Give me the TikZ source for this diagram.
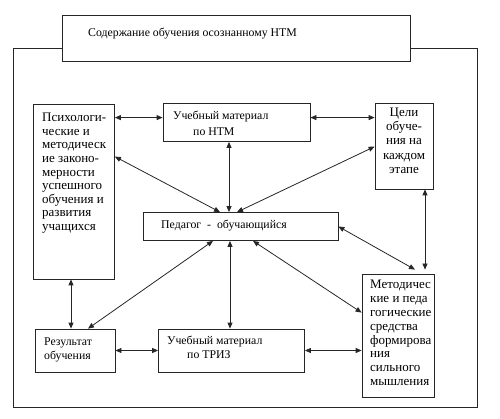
\documentclass[tikz,border=0pt]{standalone}
\usepackage{fontspec}
\setmainfont{Liberation Serif}
\usetikzlibrary{arrows.meta}
\begin{document}
\begin{tikzpicture}[x=1pt,y=-1pt,
  box/.style={draw=black!85,line width=0.8pt,rectangle,inner sep=0pt},
  txt/.style={inner sep=0pt,anchor=base west,align=left,font=\fontsize{11.8}{14}\selectfont},
  big/.style={font=\fontsize{13}{#1}\selectfont},
  arr/.style={draw=black!85,line width=0.8pt,{Triangle[length=6pt,width=5pt]}-{Triangle[length=6pt,width=5pt]}}]
\useasboundingbox (0,0) rectangle (500,419);
% outer frame
\node[box,minimum width=464pt,minimum height=359pt] (frame) at (245,227.5) {};
% title
\node[box,fill=white,minimum width=348pt,minimum height=46pt] (title) at (236,38) {};
\node[txt] (titletxt) at (88,37) {Содержание обучения осознанному НТМ};
% boxes
\node[box,minimum width=81pt,minimum height=175pt] (psy) at (74,191.5) {};
\node[box,minimum width=147pt,minimum height=38pt] (ntm) at (236.5,122.5) {};
\node[box,minimum width=58pt,minimum height=86pt] (goal) at (404,146) {};
\node[box,minimum width=195pt,minimum height=28pt] (ped) at (240.5,226.5) {};
\node[box,minimum width=72pt,minimum height=123pt] (meth) at (398,335.5) {};
\node[box,minimum width=80pt,minimum height=43pt] (res) at (75,350.5) {};
\node[box,minimum width=146pt,minimum height=43pt] (triz) at (231.5,350.5) {};
% texts (base anchor = baseline of the last line)
\node[txt,big=13.6] (psytxt) at (42,230.5) {Психологи-\\ческие и\\методическ\\ие законо-\\мерности\\успешного\\обучения и\\развития\\учащихся};
\node[txt,font=\fontsize{11.8}{16}\selectfont] (ntmtxt) at (173,136) {Учебный материал\\\hspace*{20pt}по НТМ};
\node[txt,big=14.25,anchor=base,align=center] (goaltxt) at (404,173.5) {Цели\\обуче-\\ния на\\каждом\\этапе};
\node[txt] (pedtxt) at (161,229) {Педагог\ \ -\ \ обучающийся};
\node[txt,big=13.8] (methtxt) at (370,385.5) {Методичес\\кие и педа\\гогические\\средства\\формирова\\ния\\сильного\\мышления};
\node[txt] (restxt) at (44,359.5) {Результат\\обучения};
\node[txt] (triztxt) at (167,358) {Учебный материал\\\hspace*{20pt}по ТРИЗ};
% connectors
\draw[arr] ([yshift=-14pt]psy.north east) -- ([yshift=-14.5pt]ntm.north west);
\draw[arr] ([yshift=-14.5pt]ntm.north east) -- ([yshift=-15pt]goal.north west);
\draw[arr] ([xshift=-7.5pt]ntm.south) -- ([xshift=-11.5pt]ped.north);
\draw[arr] ([yshift=-53pt]psy.north east) -- ([xshift=-20.5pt]ped.north);
\draw[arr] ([yshift=-44pt]goal.north west) -- ([xshift=-3.5pt]ped.north);
\draw[arr] ([xshift=21pt]goal.south) -- ([xshift=27pt,yshift=4pt]meth.north);
\draw[arr] (ped.east) -- ([xshift=17pt,yshift=4pt]meth.north);
\draw[arr] ([xshift=-27.5pt]ped.south) -- ([xshift=13pt]res.north);
\draw[arr] ([xshift=-10.5pt]ped.south) -- ([xshift=-1.5pt]triz.north);
\draw[arr] ([xshift=12.5pt]ped.south) -- ([yshift=-39pt]meth.north west);
\draw[arr] ([xshift=-3pt]psy.south) -- ([xshift=-4pt]res.north);
\draw[arr] (res.east) -- (triz.west |- res.east);
\draw[arr] (triz.east) -- (meth.west |- triz.east);
\end{tikzpicture}
\end{document}
